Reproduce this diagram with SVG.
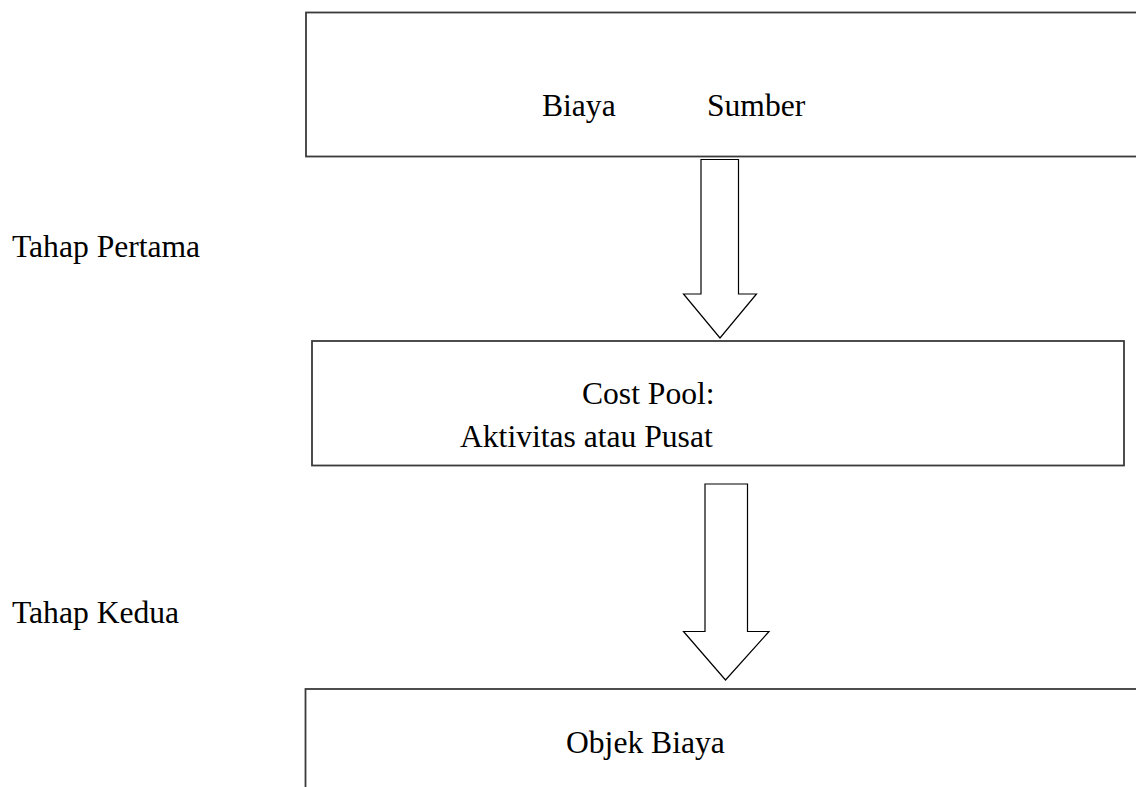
<svg xmlns="http://www.w3.org/2000/svg" width="1136" height="787" viewBox="0 0 1136 787">
<style>
.box{fill:#fff;stroke:#3a3a3a;stroke-width:1.8}
.arrow{fill:#fff;stroke:#000;stroke-width:1.2;stroke-linejoin:miter}
text{font-family:"Liberation Serif","Times New Roman",serif;font-size:31.6px;fill:#000}
</style>
<rect width="1136" height="787" fill="#fff"/>
<g id="label-tahap-pertama"><text x="12" y="257">Tahap Pertama</text></g>
<g id="label-tahap-kedua"><text x="12" y="623">Tahap Kedua</text></g>
<g id="node-biaya-sumber">
<rect class="box" x="306" y="12.5" width="900" height="144"/>
<text x="542" y="116">Biaya</text>
<text x="707" y="116">Sumber</text>
</g>
<g id="node-cost-pool">
<rect class="box" x="312" y="341" width="812" height="124.5"/>
<text x="582" y="404">Cost Pool:</text>
<text x="460" y="447">Aktivitas atau Pusat</text>
</g>
<g id="node-objek-biaya">
<rect class="box" x="305.5" y="689" width="900" height="150"/>
<text x="566" y="753">Objek Biaya</text>
</g>
<g id="connectors">
<polygon class="arrow" points="701,159.5 738.5,159.5 738.5,294 756.5,294 720,338 683.5,294 701,294"/>
<polygon class="arrow" points="705,484 747.5,484 747.5,631.5 769,631.5 725.5,680 683.5,631.5 705,631.5"/>
</g>
</svg>
